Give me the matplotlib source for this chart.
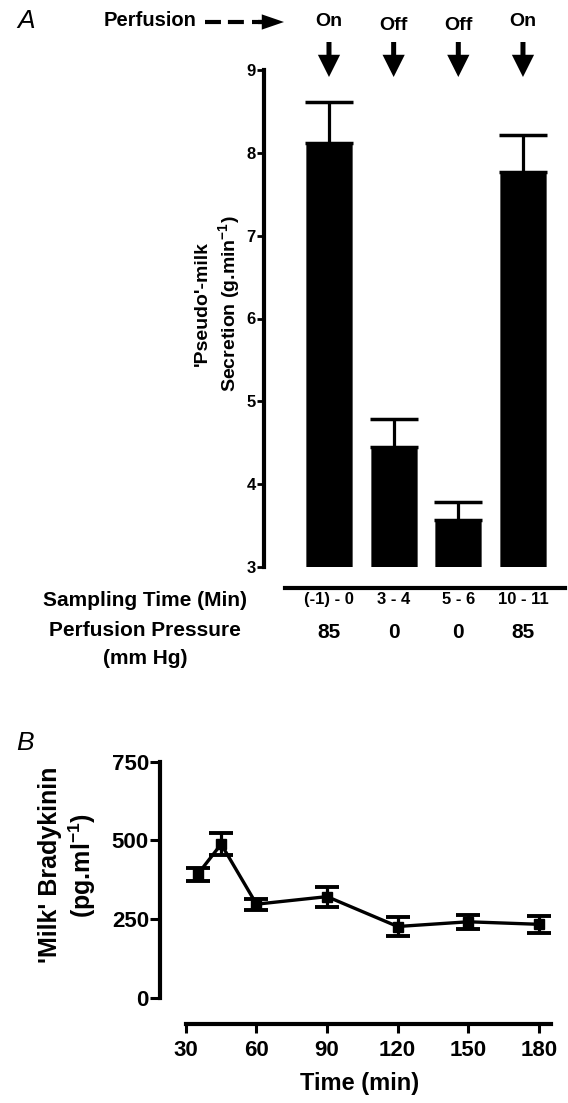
import numpy as np
import matplotlib
matplotlib.use("Agg")
import matplotlib.pyplot as plt
from matplotlib import transforms
from matplotlib.lines import Line2D

plt.rcParams['font.family'] = 'Liberation Sans'
plt.rcParams['font.weight'] = 'bold'
plt.rcParams['mathtext.fontset'] = 'custom'
plt.rcParams['mathtext.rm'] = 'Liberation Sans:bold'
plt.rcParams['mathtext.bf'] = 'Liberation Sans:bold'
plt.rcParams['mathtext.default'] = 'bf'

# panel A - pseudo-milk secretion
sampling_times = ["(-1) - 0", "3 - 4", "5 - 6", "10 - 11"]
perfusion_state = ["On", "Off", "Off", "On"]
perfusion_pressure = ["85", "0", "0", "85"]
secretion_mean = [8.12, 4.45, 3.57, 7.77]
secretion_sem = [0.49, 0.34, 0.21, 0.45]

# panel B - milk bradykinin over time
time_min = [35, 45, 60, 90, 120, 150, 180]
bradykinin_mean = [392, 488, 297, 321, 226, 241, 233]
bradykinin_sem = [20, 35, 18, 32, 31, 22, 27]

W, H = 568, 1103
fig = plt.figure(figsize=(W / 100, H / 100), dpi=100)


def fx(px):
    return px / W


def fy(py):
    return 1 - py / H


# ---------- panel A ----------
axA = fig.add_axes([fx(264), fy(567), fx(565) - fx(264), fy(70) - fy(567)])
x = np.arange(len(sampling_times))
axA.bar(x, np.array(secretion_mean) - 3, bottom=3, width=0.71, color='black',
        edgecolor='#555555', linewidth=0.6, zorder=2)
axA.errorbar(x, secretion_mean, yerr=[np.zeros(len(x)), secretion_sem], fmt='none',
             ecolor='black', elinewidth=2.3, capsize=17, capthick=2.5, zorder=3)
axA.set_ylim(3, 9)
axA.set_xlim(-1.005, 3.65)
axA.set_yticks(range(3, 10))
axA.set_xticks(x)
axA.set_xticklabels(sampling_times)
axA.tick_params(axis='y', length=5, width=2, pad=1, labelsize=12)
axA.tick_params(axis='x', length=0, pad=3, labelsize=12)
for s in ['top', 'right']:
    axA.spines[s].set_visible(False)
axA.spines['left'].set_linewidth(3)
axA.spines['bottom'].set_linewidth(3)
axA.spines['bottom'].set_position(('outward', 15))
axA.spines['bottom'].set_bounds(-0.68, 3.65)

trA = transforms.blended_transform_factory(axA.transData, fig.transFigure)

fig.text(fx(145), fy(600), "Sampling Time (Min)", ha='center', va='center', fontsize=15)
fig.text(fx(145), fy(631), "Perfusion Pressure", ha='center', va='center', fontsize=15)
fig.text(fx(145), fy(658), "(mm Hg)", ha='center', va='center', fontsize=15)
for xi, p in zip(x, perfusion_pressure):
    axA.text(xi, fy(632), p, transform=trA, ha='center', va='center', fontsize=15)

for xi, s in zip(x, perfusion_state):
    axA.text(xi, fy(22 if s == 'On' else 25), s, transform=trA, ha='center',
             va='center', fontsize=14)
    axA.annotate('', xy=(xi, fy(77)), xycoords=trA, xytext=(xi, fy(42)), textcoords=trA,
                 arrowprops=dict(arrowstyle='simple,head_length=0.8,head_width=0.8,tail_width=0.18',
                                 mutation_scale=20, color='black', lw=0, shrinkA=0, shrinkB=0))

fig.text(fx(150), fy(21), "Perfusion", ha='center', va='center', fontsize=14.5)
fig.add_artist(Line2D([fx(205), fx(246)], [fy(22), fy(22)], transform=fig.transFigure,
                      color='black', lw=3, dashes=(3.83, 1.67), solid_capstyle='butt'))
fig.add_artist(Line2D([fx(252), fx(264)], [fy(22), fy(22)], transform=fig.transFigure,
                      color='black', lw=3, solid_capstyle='butt'))
axA.annotate('', xy=(fx(284), fy(22)), xycoords='figure fraction',
             xytext=(fx(258), fy(22)), textcoords='figure fraction',
             arrowprops=dict(arrowstyle='simple,head_length=0.8,head_width=0.55,tail_width=0.15',
                             mutation_scale=20, color='black', lw=0, shrinkA=0, shrinkB=0))

fig.text(fx(218), fy(304), "'Pseudo'-milk\nSecretion (g.min$^{-1}$)", rotation=90,
         ha='center', va='center', fontsize=14, linespacing=1.3, multialignment='center')
fig.text(fx(17), fy(21), "A", style='italic', fontweight='normal', fontsize=19,
         ha='left', va='center')

# ---------- panel B ----------
axB = fig.add_axes([fx(160), fy(1024), fx(560) - fx(160), fy(761.7) - fy(1024)])
axB.errorbar(time_min, bradykinin_mean, yerr=bradykinin_sem, fmt='-s', color='black',
             lw=2.4, ms=6.5, elinewidth=2.3, capsize=8.5, capthick=2.8, clip_on=False)
axB.set_xlim(19, 189)
axB.set_ylim(-84, 750)
axB.set_xticks(range(30, 181, 30))
axB.set_yticks([0, 250, 500, 750])
for s in ['top', 'right']:
    axB.spines[s].set_visible(False)
axB.spines['left'].set_linewidth(3)
axB.spines['bottom'].set_linewidth(3)
axB.spines['left'].set_bounds(0, 750)
axB.spines['bottom'].set_bounds(30, 185)
axB.tick_params(axis='y', length=7, width=2.2, pad=1, labelsize=16)
axB.tick_params(axis='x', length=6.5, width=2.2, pad=5, labelsize=16)
axB.set_xlabel("Time (min)", fontsize=17, fontweight='bold', labelpad=8)

fig.text(fx(68), fy(865), "'Milk' Bradykinin\n(pg.ml$^{-1}$)", rotation=90,
         ha='center', va='center', fontsize=18, linespacing=1.2, multialignment='center')
fig.text(fx(16), fy(743), "B", style='italic', fontweight='normal', fontsize=19,
         ha='left', va='center')

fig.savefig("out.png", dpi=100)
